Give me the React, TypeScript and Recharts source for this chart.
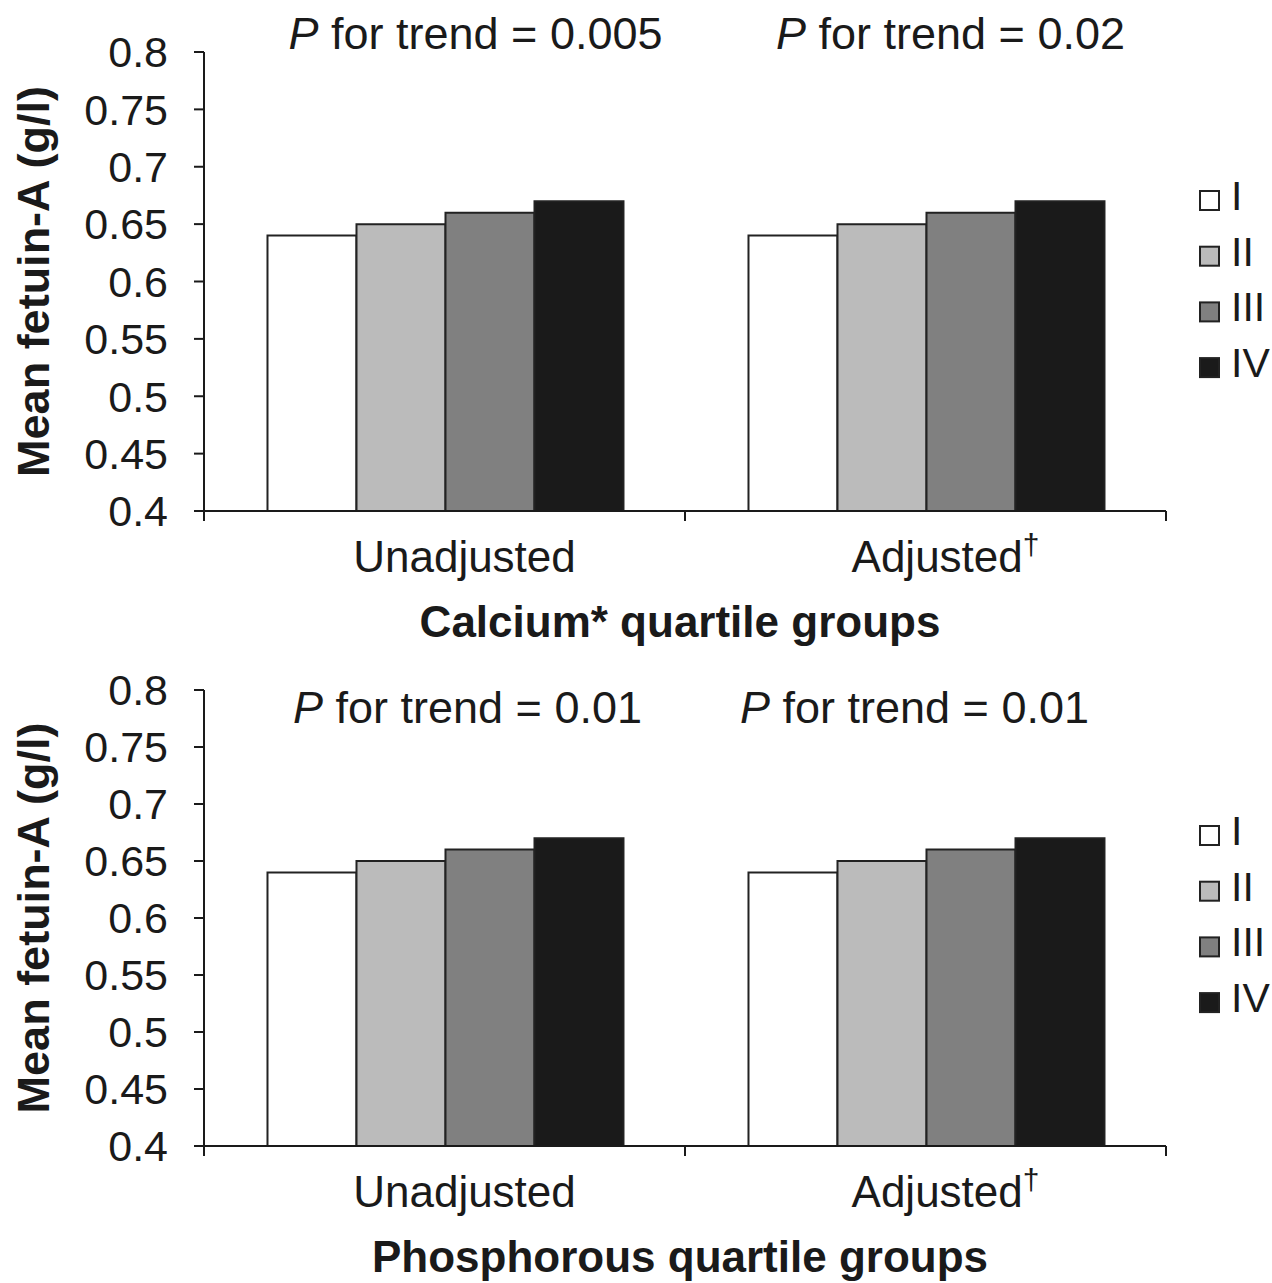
import React from 'react';
import { BarChart, Bar, XAxis, YAxis, Legend, Label } from 'recharts';

// ---------- data ----------
const categories = ['Unadjusted', 'Adjusted'];
const categorySuffix = ['', '\u2020'];
const quartileNames = ['I', 'II', 'III', 'IV'];
const quartileColors = ['#ffffff', '#bbbbbb', '#808080', '#1a1a1a'];

const calciumQ1 = [0.64, 0.64];
const calciumQ2 = [0.65, 0.65];
const calciumQ3 = [0.66, 0.66];
const calciumQ4 = [0.67, 0.67];
const calciumP = ['0.005', '0.02'];

const phosQ1 = [0.64, 0.64];
const phosQ2 = [0.65, 0.65];
const phosQ3 = [0.66, 0.66];
const phosQ4 = [0.67, 0.67];
const phosP = ['0.01', '0.01'];

const yTicks = [0.4, 0.45, 0.5, 0.55, 0.6, 0.65, 0.7, 0.75, 0.8];

const buildRows = (q1: number[], q2: number[], q3: number[], q4: number[]) =>
  categories.map((c, i) => ({ group: c, q1: q1[i], q2: q2[i], q3: q3[i], q4: q4[i] }));

const calciumRows = buildRows(calciumQ1, calciumQ2, calciumQ3, calciumQ4);
const phosRows = buildRows(phosQ1, phosQ2, phosQ3, phosQ4);

// ---------- layout / style ----------
const FONT = '"Liberation Sans", Arial, Helvetica, sans-serif';
const INK = '#1a1a1a';
const CHART_W = 1264;
const Y_AXIS_W = 196;
const RIGHT = 106;
const PLOT_W = CHART_W - Y_AXIS_W - RIGHT;
const BAND_HALF = PLOT_W / categories.length / 2;

const BottomTick = (props: any) => {
  const { x, y, payload, index } = props;
  const last = index === categories.length - 1;
  const suffix = categorySuffix[index] || '';
  return (
    <g>
      <line x1={x - BAND_HALF} x2={x - BAND_HALF} y1={y} y2={y + 10} stroke={INK} strokeWidth={2} />
      {last && <line x1={x + BAND_HALF} x2={x + BAND_HALF} y1={y} y2={y + 10} stroke={INK} strokeWidth={2} />}
      <text x={x + 20} y={y + 61} textAnchor="middle" fontSize={44} fill={INK}>
        {payload.value}
        {suffix && (
          <tspan dy={-17} fontSize={30}>
            {suffix}
          </tspan>
        )}
      </text>
    </g>
  );
};

const makePTick = (pvals: string[], dxs: number[], dyBase: number) => (props: any) => {
  const { x, y, index } = props;
  return (
    <text x={x + dxs[index]} y={y + dyBase} textAnchor="middle" fontSize={45} fill={INK}>
      <tspan fontStyle="italic">P</tspan>
      <tspan>{` for trend = ${pvals[index]}`}</tspan>
    </text>
  );
};

const makeLegend = () => (props: any) => {
  const { payload } = props;
  const pitch = 55.7;
  return (
    <svg width={72} height={240} style={{ display: 'block', overflow: 'visible' }}>
      {(payload || []).map((entry: any, i: number) => (
        <g key={i}>
          <rect
            x={1}
            y={1 + i * pitch}
            width={19}
            height={19}
            fill={entry.color}
            stroke="#222"
            strokeWidth={2}
          />
          <text x={32} y={20 + i * pitch} fontSize={41} fill={INK} fontFamily={FONT}>
            {entry.value}
          </text>
        </g>
      ))}
    </svg>
  );
};

const YLabel = (props: any) => {
  const vb = props.viewBox || { x: 0, y: 0, width: 0, height: 0 };
  const cx = vb.x + 25;
  const cy = vb.y + vb.height / 2;
  return (
    <text
      x={cx}
      y={cy}
      transform={`rotate(-90, ${cx}, ${cy})`}
      textAnchor="middle"
      dominantBaseline="central"
      fontSize={45}
      fontWeight="bold"
      fill={INK}
    >
      Mean fetuin-A (g/l)
    </text>
  );
};

const makeXTitle = (title: string) => (props: any) => {
  const vb = props.viewBox || { x: 0, y: 0, width: 0, height: 0 };
  return (
    <text
      x={vb.x + vb.width / 2 - 5}
      y={vb.y + 126}
      textAnchor="middle"
      fontSize={44}
      fontWeight="bold"
      fill={INK}
    >
      {title}
    </text>
  );
};

type PanelProps = {
  rows: any[];
  pvals: string[];
  pDx: number[];
  pDy: number;
  title: string;
  height: number;
  topH: number;
  bottomH: number;
  legendTop: number;
};

const Panel = ({ rows, pvals, pDx, pDy, title, height, topH, bottomH, legendTop }: PanelProps) => (
  <BarChart
    width={CHART_W}
    height={height}
    data={rows}
    margin={{ top: 0, right: RIGHT, bottom: 0, left: 0 }}
    barCategoryGap="13.2%"
    barGap={0}
    style={{ overflow: 'visible' }}
  >
    <XAxis
      xAxisId="top"
      orientation="top"
      dataKey="group"
      height={topH}
      axisLine={false}
      tickLine={false}
      tickSize={0}
      tickMargin={0}
      interval={0}
      tick={makePTick(pvals, pDx, pDy)}
    />
    <XAxis
      dataKey="group"
      height={bottomH}
      axisLine={{ stroke: INK, strokeWidth: 2 }}
      tickLine={false}
      tickSize={0}
      tickMargin={0}
      interval={0}
      tick={<BottomTick />}
    >
      <Label content={makeXTitle(title)} />
    </XAxis>
    <YAxis
      type="number"
      width={Y_AXIS_W}
      domain={[0.4, 0.8]}
      ticks={yTicks}
      interval={0}
      allowDataOverflow
      tickSize={10}
      tickMargin={26}
      axisLine={{ stroke: INK, strokeWidth: 2 }}
      tickLine={{ stroke: INK, strokeWidth: 2 }}
      tick={{ fontSize: 43, fill: INK }}
    >
      <Label content={<YLabel />} />
    </YAxis>
    <Legend
      layout="vertical"
      align="center"
      verticalAlign="middle"
      content={makeLegend()}
      wrapperStyle={{ left: 1191, top: legendTop, width: 72, height: 240 }}
    />
    {['q1', 'q2', 'q3', 'q4'].map((k, i) => (
      <Bar
        key={k}
        dataKey={k}
        name={quartileNames[i]}
        fill={quartileColors[i]}
        stroke="#222"
        strokeWidth={2}
        isAnimationActive={false}
      />
    ))}
  </BarChart>
);

export default function App() {
  return (
    <div
      style={{
        position: 'absolute',
        left: 0,
        top: 0,
        width: 1272,
        height: 1283,
        overflow: 'hidden',
        background: '#ffffff',
      }}
    >
      <div style={{ position: 'absolute', left: 8, top: 8, width: CHART_W, fontFamily: FONT, color: INK }}>
        <Panel
          rows={calciumRows}
          pvals={calciumP}
          pDx={[31, 25]}
          pDy={-3}
          title="Calcium* quartile groups"
          height={641}
          topH={44}
          bottomH={138}
          legendTop={182}
        />
        <Panel
          rows={phosRows}
          pvals={phosP}
          pDx={[23, -11]}
          pDy={33}
          title="Phosphorous quartile groups"
          height={634}
          topH={41}
          bottomH={137}
          legendTop={176}
        />
      </div>
    </div>
  );
}
